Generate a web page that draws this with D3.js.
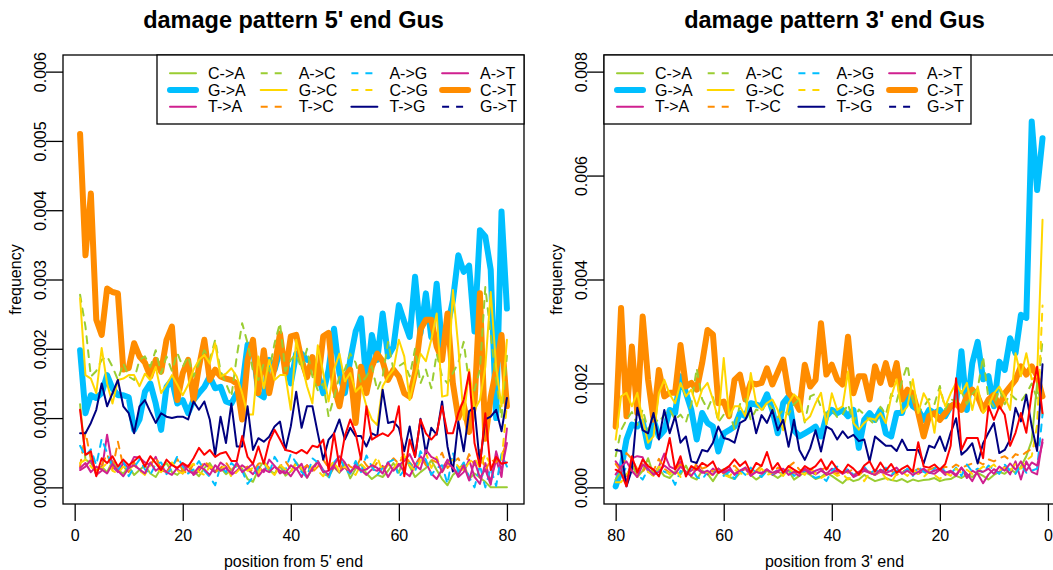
<!DOCTYPE html>
<html>
<head>
<meta charset="utf-8">
<script src="https://cdn.jsdelivr.net/npm/d3@7/dist/d3.min.js"></script>
<style>
body{margin:0;background:#fff;}
text{font-family:"Liberation Sans",Arial,sans-serif;fill:#000;}
</style>
</head>
<body>
<script>
// frequencies are typed in units of 1e-4 (shown value = v/10000)
var pos5 = d3.range(1, 81);      // position from 5' end
var pos3 = d3.range(80, 0, -1);  // position from 3' end, read left to right
var xTicks = [0, 20, 40, 60, 80];
var yTicks5 = [0, 0.001, 0.002, 0.003, 0.004, 0.005, 0.006];
var yTicks3 = [0, 0.002, 0.004, 0.006, 0.008];
var names = ["C->A","G->A","T->A","A->C","G->C","T->C","A->G","C->G","T->G","A->T","C->T","G->T"];

// ---- 5' end ----
var ca5 = [12,4,3.5,2.5,3,2.2,3.8,2.5,2,3,
  1.8,2.5,3.2,2,1.5,2.8,3.5,2.2,1.8,2.6,
  3,2.4,1.6,2.8,3.5,2.2,2.8,1.9,2.5,3.3,
  2.7,1.2,0.8,2.6,3.8,2.4,2,3.1,1.7,2.3,
  3.6,2.5,1.4,2.8,3.8,2.2,1.5,2.9,2.1,3.4,
  1.3,2.7,3.3,2,1.2,1.8,1.5,2.4,3.5,2.1,
  4.5,3,1.5,2.2,2.8,3.9,2.5,1.2,0.3,1.8,
  2.5,3.5,1.2,2,1.4,0.8,0,0,0,0];
var ga5 = [19.8,10.7,13.3,12.9,13.6,16.2,14.3,13.3,13.3,13,
  8.3,9.8,13.8,15,12.1,8.3,14.5,15.5,12.1,12.6,
  10.7,12.6,13.6,14.5,16,14.3,14.5,12.4,12.1,13.6,
  14.5,20.6,20.3,13.5,13,18.4,17,19.8,18.4,15,
  19.3,19.3,18.4,18.4,16.5,13.6,17,22.9,16.5,13.6,
  18.4,22.5,24.4,15,22,18.4,25.1,18.9,20.3,26.3,
  23.9,21.7,30.4,22.2,28,21.7,29.4,20.3,23.2,27,
  33.5,31.1,32,22.5,37.1,36.2,31.4,10,39.8,25.8];
var ta5 = [2.5,3,4,1.8,2.4,7.6,3,2.2,3.5,2.8,
  4.4,4.3,3.6,3.2,4.4,2.5,2.2,3.4,2.6,2,
  3.2,1.8,2.4,3.4,2.8,2.2,3.6,3,1.8,2.4,
  3.2,2.6,1.9,3,2.2,4,3.1,2,2.5,1.6,
  2.8,1.5,3.2,2.4,3.8,2.5,1.8,3,2.2,2.9,
  2,3.4,2.5,1.8,2.6,2.4,3.1,1.5,2.8,3.4,
  2.2,1.6,3.2,4.5,3.6,2,1.2,2.6,4,3,
  1.5,2.2,4,1.5,0.5,3.5,0.8,4,1.5,8.5];
var ac5 = [27.8,23.2,16,16.8,18.4,18.9,17.4,15.5,17.9,16,
  15.5,18.4,18.9,17.4,19.8,16.4,18.9,16.8,19.4,17.4,
  18.9,16,17.9,19.8,18.4,21.3,16.8,15,13.1,18.9,
  23.7,20.8,16.8,15.5,17.9,16.8,20.8,23.7,16.8,18.4,
  19.3,17,20,16,14,15,10.2,13,16,17,
  19.3,18,15,16,17.5,14,16,21,17,17.5,
  18,16,20,15,17,14.3,19.3,16,15,16.5,
  18,21,15,14,17,28.9,22,15.5,10,19];
var gc5 = [27.3,16.2,15.7,13.6,20.1,15,12.1,15.5,15.7,16.2,
  16.2,14.6,16.4,15.5,17.4,13.6,14.8,16.2,14.8,13.3,
  14.8,17,18.4,19.1,17.9,20.8,16,16.4,17.2,16,
  13.6,10.5,10.5,18.9,14.3,18.4,15.5,16.2,16.2,11.2,
  21.3,18,14.6,12.1,20.5,16.5,12.4,17,19.3,15.3,
  16.5,13.8,14.6,11.7,9.8,9,14.6,16,17,21.3,
  18.9,12.6,16,19.3,18.2,21.3,25.1,13.1,13.3,28.5,
  20.3,9.8,17,11.2,12.6,17.4,28.2,17.4,11.7,21.3];
var tc5 = [3,8,4,2.4,3.2,4.8,2.6,6.6,3,2.2,
  3.6,2.4,2,3.2,4.4,2.6,2.2,3,4.1,2.4,
  2,3.4,2.6,3.8,3,2.2,2.8,3.6,2.4,3.2,
  2.6,3,2.2,3.4,3.6,2.8,2.2,3,3.8,2.6,
  3.4,2.6,3.2,2.2,3,4,2.8,3.4,2.4,3.8,
  3,2.6,4.4,3.2,2.4,3.6,2.8,3.2,4.2,3.4,
  4.8,3.6,2.8,4.4,3.2,4,3.6,5,2.8,3.6,
  4.2,2.6,4.8,3.2,5.4,2.4,4,3.6,4.6,6.4];
var ag5 = [6,4.5,5.5,3.2,7,5,3,2.5,3.8,1.6,
  2.9,4,2.6,1.8,3.4,3.6,1.9,2.8,4.5,3,
  2,2.6,3.8,2.4,1.5,0.3,3.1,2.2,3.5,2.8,
  2.4,0.5,1.5,3,3.6,2,4.4,3.2,2.5,4.8,
  3.5,2.2,1.5,4.2,3.6,2.4,1.2,3.6,4.5,2.6,
  2,3.8,2.2,4.6,3,1.8,2.8,3.6,4,1.5,
  2.5,3.5,2.2,5.2,4,1.8,2.8,3.2,0.5,5,
  2.2,3.6,1.5,0,3.2,0,2.8,0.2,4.8,3];
var cg5 = [3.5,4,3,2.2,2.8,3.5,2.4,2,3,2.6,
  3.2,2.4,1.8,3.4,2.8,2.2,3,3.6,2.4,2,
  2.8,3.4,2.2,1.8,3,2.6,2.4,3.2,1.5,2.2,
  3,2.4,2.8,2,3.6,2.5,1.8,3.2,2.6,2.2,
  3.4,2.8,2,3,2.4,1.6,2.8,3.8,2.2,3,
  2.4,1.8,3.4,2.6,3,4.4,2.2,3.2,2.6,4,
  4.6,3.2,2.4,3.8,5,2.8,4.4,2.2,3.4,4,
  3,2.4,3.6,4.2,2.8,4.8,3.2,4.4,3.6,12];
var tg5 = [7.8,7.8,9.3,11.2,15,11.7,13.6,15.5,11.7,10.7,
  7.8,11.7,12.6,10.9,9.3,10.7,10.2,10,10.2,10.2,
  9.8,12.4,11.2,12.4,9.8,4.7,10.2,6.4,12.1,5.9,
  5.9,11.7,5.4,7.1,6.6,7.3,8.8,9.5,5.4,8.8,
  13.8,8.6,11.7,11.7,7.8,4,6.9,7.8,9.8,6.9,
  8.6,7.4,7.4,5.9,7.8,7.4,14.1,9.3,9.5,8.6,
  5.2,8.8,4.4,9.9,4.9,8.6,7.6,12.4,5.9,2.3,
  9.5,5.2,11,11.5,3.3,9.8,10.2,11.2,8.1,12.9];
var at5 = [2.8,3.5,2.2,3,2.6,2,3.4,2.4,1.6,2.8,
  3.2,2.6,2,3.6,2.4,3,2.2,1.8,2.8,3.4,
  2.4,2,3,2.6,1.8,3.2,2.4,2.8,2,3.6,
  2.2,2.8,3.4,1.6,2.6,2.2,3,2.4,2,3.2,
  2.6,3.4,1.4,2.8,3.6,2.2,2.4,3.2,4.5,3.6,
  2.2,3,2.4,2.6,3.2,2.8,2,3.6,2.4,3.2,
  3.8,4.8,3.2,2.6,5.4,4.4,4,2.2,3.6,2.8,
  1.8,3.2,1,3.8,1.4,2.6,0.4,5.2,2.4,6.4];
var ct5 = [51,33.5,42.4,24.2,22,28.7,28.2,28,17,17.2,
  20.8,18.9,18,16,18.4,16.7,21.3,23.2,12.6,16.5,
  18.4,12.6,17.4,21.3,15.5,17,16,15.7,15.5,15,
  9.8,18.4,21.3,13.6,19.8,13.6,17.4,22.2,16.5,21.8,
  22,18.4,15.9,18.8,15,21.8,22.3,14.5,11.7,16,
  17,9.3,17.4,13.6,17.4,19.3,18.2,15.5,17,16,
  13.6,13.1,16.5,22.8,24.2,24.2,20.3,18.4,25.1,15,
  10,12,8,12,28,7,13,17,22,11.7];
var gt5 = [11.2,4.7,5.2,1.6,4.2,3.5,4.5,3,4,3.2,
  3.8,4.5,3,4.5,3.5,2.5,4,3.2,2.8,3.5,
  3,4.2,5.7,4.7,5.4,4.4,4.9,5.1,3.8,3.8,
  7.4,4.4,3.4,5.9,3.4,6.6,8.3,6.9,5.4,5.2,
  4.9,5.4,4.9,6,5.8,6.9,2.5,7.8,3,7.4,
  9.8,7.8,4,11.7,6.9,7.4,7.8,7.4,8.3,11.7,
  1.6,6.9,4.4,9.8,7.8,6.9,7.8,11.7,7.8,7.8,
  10.7,12.6,16.6,6.4,3,10.7,2.5,4.4,3.4,3.6];

// ---- 3' end (from position 80 down to 1) ----
var ca3 = [1.5,3,2.2,4.5,2,3.2,5.6,2.4,3.5,2.2,
  1.8,3,2.5,4.2,2,1.5,3.2,2.6,1.2,2.8,
  3.5,2,1.6,2.8,3.8,2.4,1.5,2.2,3.2,2.5,
  1.8,2.6,3.2,1.5,2.2,3,2.4,1.6,2,2.8,
  2.2,1.5,0.8,1.8,1.2,1.5,2.4,1.8,1.2,1.5,
  1.8,1.4,1.2,1.6,1,1.5,1.2,1.4,1.5,1.8,
  1.2,1.5,1.6,2.2,1.8,2.5,2,2.8,2.2,1.5,
  2.4,3,2.6,3.5,2.8,4,6,9,20,14];
var ga3 = [0.2,3.4,9.2,12.1,11.7,12.7,7.8,13,9.8,11,
  14.9,14.3,21.4,18.2,14.9,9.2,14.3,12.4,11.7,6.9,
  10.4,11,11.7,14.3,13.7,16.2,15.9,15.6,17.9,14.9,
  10.4,16.2,17.5,11,9.8,10.4,11,11.7,9.8,13.7,
  14.9,14.3,14.9,13.7,14.9,7.6,13,14.3,13,14.9,
  10.4,9.8,14.3,14.3,18.1,15.6,14.9,13,14.9,14.3,
  14.9,13.7,15.6,16.2,26.2,14.9,23.9,28,20.8,21.4,
  15.6,24.2,22.6,28.7,25.8,33.2,32.6,70.4,57.2,67.2];
var ta3 = [5,3.5,1,5.6,6,5.8,3,2.5,4,6.5,
  4,3.5,5,2.6,3.2,4.2,3,2.5,3.6,2.8,
  3.2,4,2.4,3,3.6,2.2,3,2.8,3.5,2.4,
  3,2.6,3.4,2.8,2.2,3.6,3,2.5,3.2,2.6,
  3.6,3,2.8,3.4,2,2.5,3.2,2.8,2.4,3,
  2.6,2.2,3.2,2.8,3.5,3,2.6,3.2,2.8,2.6,
  3.4,2.4,3,2.2,3.8,1.8,3.2,2.6,0.8,2.5,
  3.5,2.8,4,2.5,5,1.5,5,3,2.5,9.2];
var ac3 = [6,11,13,14.5,12,15,11,13.5,12.5,14,
  15,13,14,12.5,16,22.9,17,15,17.5,12.5,
  14,15,11,16,17,13,15,14.5,16.5,15,
  13.5,15,14,16,17,12.5,17.5,18,15.5,14,
  15,13.5,14,16,12.5,15,14,13,12,15.5,
  14,18,16.5,20.5,23.6,17,14.5,15.5,17,16,
  19.5,15,17,16.5,18.5,16,18,19,25.1,17,
  15.5,19,16,18,17,16.5,18,20,17,28.4];
var gc3 = [9.2,17.5,18.2,15.6,18.2,13,8.6,9.8,18.2,20.7,
  17.9,16.2,20.1,17.5,18.8,15.6,18.8,20.1,16.9,13,
  24.9,13.7,15.6,15.6,13.7,22,16.2,14.9,16.2,16.9,
  14.9,11,16.2,17.9,16.9,12.7,13.7,16.2,18.2,12.1,
  18.1,14.9,15.6,22.3,12.4,11.1,12.4,13.3,13,14.3,
  12.4,17.5,20.8,14.3,15.6,20.8,14.3,18.1,16.2,10.5,
  18.8,15.6,18.1,20.1,18.1,20.1,14.9,19.4,14.3,15.6,
  18.1,19.4,17.5,14.9,25.8,21.4,25.8,20.8,21.4,51.5];
var tc3 = [4.5,3,6.6,5.5,3.5,3,4.5,3.2,5.5,3.6,
  2.8,3.4,4.4,3,2.2,4.8,3.6,4,3,3.6,
  2.6,3.4,4.2,3,3.6,2.8,3.2,4.2,3.4,2.6,
  3.8,3.2,4,4.8,3.4,3,3.6,2.8,3.4,3.8,
  3,2.6,3.4,2.8,3.6,2.4,3.2,3,2.6,3.4,
  2.8,3.2,2.4,3,3.4,2.8,3.6,3,3.4,3.8,
  3.2,4,3.6,4.4,3.8,4.2,4.6,5,4.4,5.4,
  5,5.6,6,5.2,6.4,6,6.8,7.4,8.2,9.5];
var ag3 = [0,2,4,3,2.5,1.5,3.5,2,4,3,
  2.6,0.5,3.2,2.4,3.8,2,1.5,3,2.6,3.6,
  2.2,3,1.6,3.4,2.4,3.8,2.8,2,3.2,2.6,
  3.4,2.4,3.6,2.2,2.8,3.2,2.4,1.8,2.2,1.2,
  3.2,4,2.8,3.6,2.4,3,4,2.6,3.4,2.8,
  3.8,2.4,3.2,2.6,3.6,2.2,4,3,2.4,3.6,
  4.2,3,2.6,3.8,2.2,4.4,3,3.6,2.8,4.2,
  3.4,2.6,4.4,3.2,2.6,4.4,2.8,3.2,3.6,14];
var cg3 = [1,1,2.5,3.6,2,4.5,3,2.2,4,3.4,
  2.5,3.6,2,3,2.4,3.8,2.6,3,2.2,3.6,
  2.4,2,3.4,2.8,2.2,3.2,2.6,3.6,2.4,2.8,
  3.2,2.2,3.6,2.8,3,2.4,3.8,2.6,1.8,2.4,
  3,2.2,2.6,1.5,2.4,3,1.2,2.8,2.4,3.2,
  1.8,1,2.6,3,2.2,3.4,2.6,2,3,2.4,
  1.6,2.8,2.2,3.6,2.8,3.4,2.6,3.2,4,3.6,
  4.4,3.2,3.8,3,4.6,3.6,5.2,6,12,35];
var tg3 = [7.2,7,0.2,3.4,15.3,11,10.4,14.3,9.2,14.9,
  10.4,13.7,8.6,9.8,5,4.7,7.2,6.9,8.6,11.7,
  9.5,9.2,8.6,12.4,13,15.3,10.4,13.9,12.4,14.9,
  11,13,7.8,13,7.2,5.3,7.5,11,6.9,11.7,
  11.1,9.2,10.8,9.5,10.1,8.9,9.2,5,9.8,8.9,
  8,8,7,9.2,7.2,7.2,7.2,4.6,8,7.6,
  9.8,7,10.5,13.3,6.3,7.2,8.5,4.6,8.5,10.5,
  12.4,6.6,7.2,9.2,15.3,12.7,17.8,11.8,7,23.7];
var at3 = [2.5,4,5,3.2,2,4.4,3.6,2.4,3,4.2,
  3.4,2.6,4,3,2.2,3.6,2.8,3.2,2.4,3.6,
  2.8,3.4,2.6,3.2,3.8,2.4,3,2.6,3.4,2.8,
  3.2,3.6,2.4,3,2.8,3.4,2.6,3.2,3.6,2.4,
  2.8,3.4,2.6,3.2,2.2,3,3.6,2.8,2.4,3.4,
  2.8,3.2,3.8,2.6,3.2,2.4,3,3.6,2.8,3.2,
  3.6,2.8,3.2,2.4,3.8,2.6,1.2,3.2,3,3.6,
  2.6,4,3.2,4.6,3.4,5,3.2,4.8,4.2,8.6];
var ct3 = [11.7,34.5,13.7,27.1,14.3,32.9,20.7,13,22.6,17.5,
  18.2,18.2,27.4,19.4,20.1,18.8,23.9,30.3,29.4,16.2,
  16.5,13.7,20.7,21.7,16.9,20.1,19.8,20.1,22.9,19.8,
  22.2,24.6,18.2,16.9,14.9,23.6,19.4,20.7,31.6,21.7,
  23.6,20.8,19.8,29,18.1,21.4,21.4,16.9,23.3,20.1,
  23.9,19.8,23.9,16.9,18.8,18.1,14.3,9.8,13.7,14.3,
  13,14.3,15.6,16.2,14.9,17.5,18.8,17.5,14.9,16.9,
  17.8,15.6,18.1,19.4,20.7,23.3,21.7,23.3,21.4,17.5];
var gt3 = [3.4,2.8,0.2,6,2.8,5.4,4.1,3.4,2.1,5,
  9.5,3.4,6,2.1,4.1,3.4,4.7,4.1,5,2.8,
  3.4,4.1,5.4,4.1,5,2.8,4.7,4.1,6.8,3.4,
  4.7,2.8,4.1,3.4,2.8,4.1,3.4,4.1,5.4,3.4,
  5,3.5,2.8,4.4,3.6,2.5,4.2,5,3,4.8,
  3.2,4.5,2.8,3.6,4.2,3,8.7,4,3.8,4.4,
  3.4,4.5,8,21,7.2,9.5,9.5,9.5,5.6,15.6,
  13,15.6,14,8,10.5,14.3,10.5,18.1,23.2,14.3];

var seriesLeft = {"C->A":ca5,"G->A":ga5,"T->A":ta5,"A->C":ac5,"G->C":gc5,"T->C":tc5,
  "A->G":ag5,"C->G":cg5,"T->G":tg5,"A->T":at5,"C->T":ct5,"G->T":gt5};
var seriesRight = {"C->A":ca3,"G->A":ga3,"T->A":ta3,"A->C":ac3,"G->C":gc3,"T->C":tc3,
  "A->G":ag3,"C->G":cg3,"T->G":tg3,"A->T":at3,"C->T":ct3,"G->T":gt3};

var pink = "#d02090";
var styles = {
  "C->A":{color:"yellowgreen",dash:null,w:2},
  "G->A":{color:"deepskyblue",dash:null,w:6},
  "T->A":{color:pink,dash:null,w:2},
  "A->C":{color:"yellowgreen",dash:"7,7",w:2},
  "G->C":{color:"gold",dash:null,w:2},
  "T->C":{color:"darkorange",dash:"7,7",w:2},
  "A->G":{color:"deepskyblue",dash:"7,7",w:2},
  "C->G":{color:"gold",dash:"7,7",w:2},
  "T->G":{color:"navy",dash:null,w:2},
  "A->T":{color:pink,dash:null,w:2},
  "C->T":{color:"darkorange",dash:null,w:6},
  "G->T":{color:"navy",dash:"7,7",w:2}
};
// in the plot itself G->T comes out as a plain red line
var plotStyle = function(n){
  if (n === "G->T") return {color:"red",dash:null,w:2};
  return styles[n];
};
var drawOrder = ["G->A","C->T","C->A","T->A","A->C","G->C","T->C","A->G","C->G","T->G","A->T","G->T"];

var plotTop = 55, plotBottom = 504;
var svg = d3.select("body").append("svg").attr("width",1053).attr("height",570);

var drawPanel = function(p)
{
  var x = d3.scaleLinear().domain(p.xDomain).range([p.left,p.right]);
  var y = d3.scaleLinear().domain([-0.04*p.yMax,1.04*p.yMax]).range([plotBottom,plotTop]);
  var g = svg.append("g");

  var line = d3.line()
    .x(function(d,i){ return x(p.pos[i]); })
    .y(function(d){ return y(d/10000); });

  drawOrder.forEach(function(n){
    var st = plotStyle(n);
    g.append("path").datum(p.series[n])
      .attr("d",line)
      .attr("fill","none")
      .attr("stroke",st.color)
      .attr("stroke-width",st.w)
      .attr("stroke-dasharray",st.dash)
      .attr("stroke-linejoin","round")
      .attr("stroke-linecap","round");
  });

  g.append("rect")
    .attr("x",p.left).attr("y",plotTop)
    .attr("width",p.right-p.left).attr("height",plotBottom-plotTop)
    .attr("fill","none").attr("stroke","#000").attr("stroke-width",1.3);

  var xAxis = g.append("g")
    .attr("transform","translate(0,"+plotBottom+")")
    .call(d3.axisBottom(x).tickValues(xTicks).tickSize(17).tickPadding(5).tickFormat(d3.format("d")));
  xAxis.select(".domain").remove();
  xAxis.selectAll("line").attr("stroke-width",1.3);
  xAxis.attr("font-size",null).attr("font-family",null);
  xAxis.selectAll("text").attr("font-size","16px").attr("dy","0.95em");

  var yAxis = g.append("g")
    .attr("transform","translate("+p.left+",0)")
    .call(d3.axisLeft(y).tickValues(p.yTicks).tickSize(17).tickFormat(d3.format(".3f")));
  yAxis.select(".domain").remove();
  yAxis.selectAll("line").attr("stroke-width",1.3);
  yAxis.attr("font-size",null).attr("font-family",null);
  yAxis.selectAll("text")
    .attr("font-size","16px")
    .attr("x",0).attr("dy",null)
    .attr("text-anchor","middle")
    .attr("transform","translate(-17,0) rotate(-90)");

  var mid = (p.left+p.right)/2;
  g.append("text").text(p.title)
    .attr("x",mid).attr("y",28)
    .attr("text-anchor","middle")
    .attr("font-weight","bold")
    .attr("font-size","23.5px");
  g.append("text").text(p.xLabel)
    .attr("x",mid).attr("y",567)
    .attr("text-anchor","middle")
    .attr("font-size","16px");
  g.append("text").text("frequency")
    .attr("text-anchor","middle")
    .attr("font-size","16px")
    .attr("transform","translate("+(p.left-42)+","+((plotTop+plotBottom)/2)+") rotate(-90)");

  // legend, 4 columns filled column by column
  var L = p.legendLeft;
  var leg = g.append("g");
  leg.append("rect")
    .attr("x",L).attr("y",plotTop).attr("width",367).attr("height",69)
    .attr("fill","#fff").attr("stroke","#000").attr("stroke-width",1.3);
  names.forEach(function(n,k){
    var col = Math.floor(k/3), row = k%3;
    var cx = L + col*90.7;
    var cy = 73.3 + row*16.7;
    var st = styles[n];
    leg.append("line")
      .attr("x1",cx+13).attr("x2",cx+39)
      .attr("y1",cy).attr("y2",cy)
      .attr("stroke",st.color)
      .attr("stroke-width",st.w)
      .attr("stroke-dasharray",st.dash)
      .attr("stroke-linecap",st.dash ? "butt" : "round");
    leg.append("text").text(n)
      .attr("x",cx+51).attr("y",cy+5.6)
      .attr("font-size","16px");
  });
};

drawPanel({
  left:63, right:524, xDomain:[-2.16,83.16], pos:pos5,
  yMax:0.006, yTicks:yTicks5, series:seriesLeft,
  title:"damage pattern 5' end Gus", xLabel:"position from 5' end",
  legendLeft:157
});
drawPanel({
  left:604, right:1065, xDomain:[82.16,-3.16], pos:pos3,
  yMax:0.008, yTicks:yTicks3, series:seriesRight,
  title:"damage pattern 3' end Gus", xLabel:"position from 3' end",
  legendLeft:604
});
</script>
</body>
</html>
